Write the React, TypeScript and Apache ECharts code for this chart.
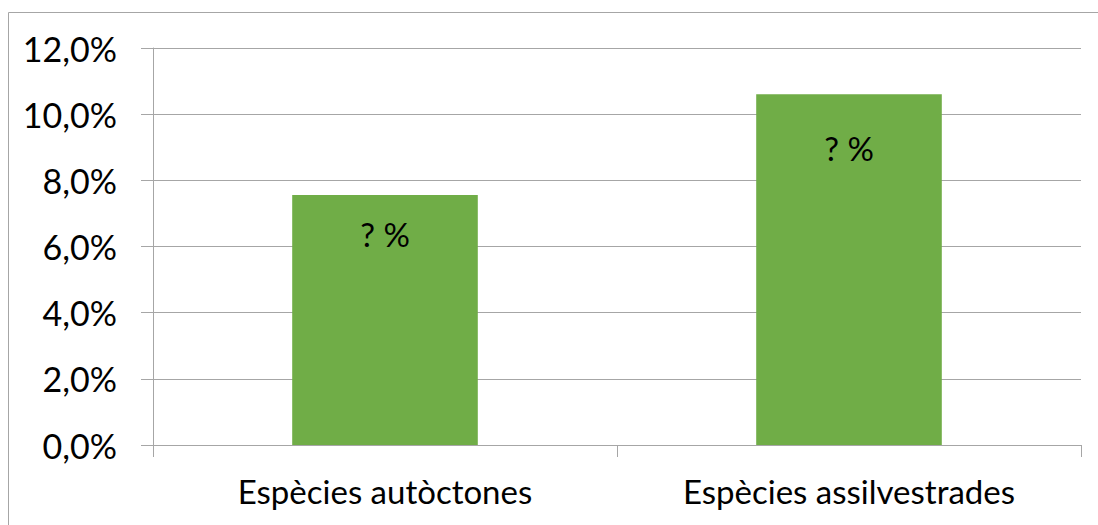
import React, { useEffect, useRef } from "react";
import * as echarts from "echarts";

const categories = ["Espècies autòctones", "Espècies assilvestrades"];
const values = [7.56, 10.6];
const barLabels = ["? %", "? %"];
const labelOffsets = [23, 37];
const yTicks = [0, 2, 4, 6, 8, 10, 12];

export default function App() {
  const ref = useRef<HTMLDivElement>(null);
  useEffect(() => {
    document.body.style.margin = "0";
    const chart = echarts.init(ref.current!, null, { renderer: "svg" });
    const font = "Lato, 'Open Sans', sans-serif";
    chart.setOption({
      animation: false,
      backgroundColor: "#ffffff",
      graphic: [
        {
          type: "rect",
          shape: { x: 8.5, y: 12.5, width: 1200, height: 700 },
          style: { fill: "none", stroke: "#A6A6A6", lineWidth: 1 },
          silent: true,
        },
      ],
      grid: { left: 153, right: 17, top: 48, bottom: 80 },
      xAxis: {
        type: "category",
        data: categories,
        axisLine: { show: true, lineStyle: { color: "#A6A6A6", width: 1 } },
        axisTick: { show: true, length: 12, lineStyle: { color: "#A6A6A6" } },
        axisLabel: { color: "#000", fontSize: 33, fontFamily: font, margin: 29 },
      },
      yAxis: {
        type: "value",
        min: yTicks[0],
        max: yTicks[yTicks.length - 1],
        interval: 2,
        axisLine: { show: true, lineStyle: { color: "#A6A6A6", width: 1 } },
        axisTick: { show: true, length: 12, lineStyle: { color: "#A6A6A6" } },
        splitLine: { show: true, lineStyle: { color: "#A6A6A6", width: 1 } },
        axisLabel: {
          color: "#000",
          fontSize: 34,
          fontFamily: font,
          margin: 36,
          formatter: (v: number) => v.toFixed(1).replace(".", ",") + "%",
        },
      },
      series: [
        {
          type: "bar",
          data: values.map((v, i) => ({
            value: v,
            label: { distance: labelOffsets[i] },
          })),
          barWidth: "40%",
          itemStyle: { color: "#70AD47" },
          label: {
            show: true,
            position: "insideTop",
            color: "#000",
            fontSize: 33,
            fontFamily: font,
            formatter: (p: any) => barLabels[p.dataIndex],
          },
        },
      ],
    });
    return () => chart.dispose();
  }, []);
  return <div ref={ref} style={{ width: 1098, height: 525 }} />;
}
